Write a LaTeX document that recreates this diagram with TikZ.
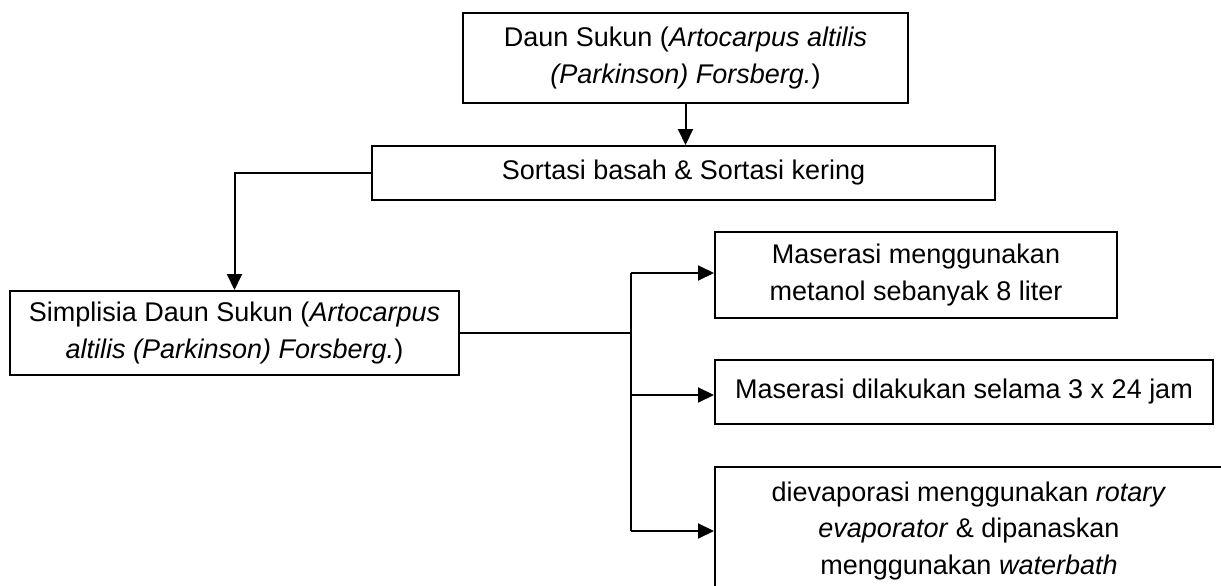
\documentclass[tikz,border=0pt]{standalone}
\usepackage{fontspec}
\setmainfont{Liberation Sans}
\usetikzlibrary{arrows.meta}
\begin{document}
\begin{tikzpicture}[x=1pt,y=-1pt,
  box/.style={draw, line width=2pt, inner sep=0pt, align=center,
    font=\fontsize{27}{36.5}\selectfont},
  conn/.style={line width=2pt},
  arr/.style={conn, -{Triangle[length=16pt,width=15pt]}}]
\useasboundingbox (0,0) rectangle (1221,586);
\node[box, minimum width=445pt, minimum height=90pt] (b1) at (685.5,58)
  {Daun Sukun (\textit{Artocarpus altilis}\\\textit{(Parkinson) Forsberg.})};
\node[box, minimum width=623pt, minimum height=54pt] (b2) at (683.5,173)
  {Sortasi basah \& Sortasi kering};
\node[box, minimum width=449pt, minimum height=84pt] (b3) at (234.5,333)
  {Simplisia Daun Sukun (\textit{Artocarpus}\\\textit{altilis (Parkinson) Forsberg.})};
\node[box, minimum width=402pt, minimum height=86pt] (b4) at (916,275)
  {Maserasi menggunakan\\metanol sebanyak 8 liter};
\node[box, minimum width=498pt, minimum height=64pt] (b5) at (964,392)
  {Maserasi dilakukan selama 3 x 24 jam};
\node[box, minimum width=508pt, minimum height=128pt] (b6) at (969,531)
  {dievaporasi menggunakan \textit{rotary}\\\textit{evaporator} \& dipanaskan\\menggunakan \textit{waterbath}};
\coordinate (j0) at (631,333);
\coordinate (j1) at (631,273);
\coordinate (j2) at (631,395);
\coordinate (j3) at (631,531);
\draw[arr] (b1.south) -- (b1.south |- b2.north);
\draw[arr] (b2.west) -| (b3.north);
\draw[conn] (b3.east) -- (j0);
\draw[conn] (j1) -- (j3);
\draw[arr] (j1) -- (b4.west |- j1);
\draw[arr] (j2) -- (b5.west |- j2);
\draw[arr] (j3) -- (b6.west |- j3);
\end{tikzpicture}
\end{document}
